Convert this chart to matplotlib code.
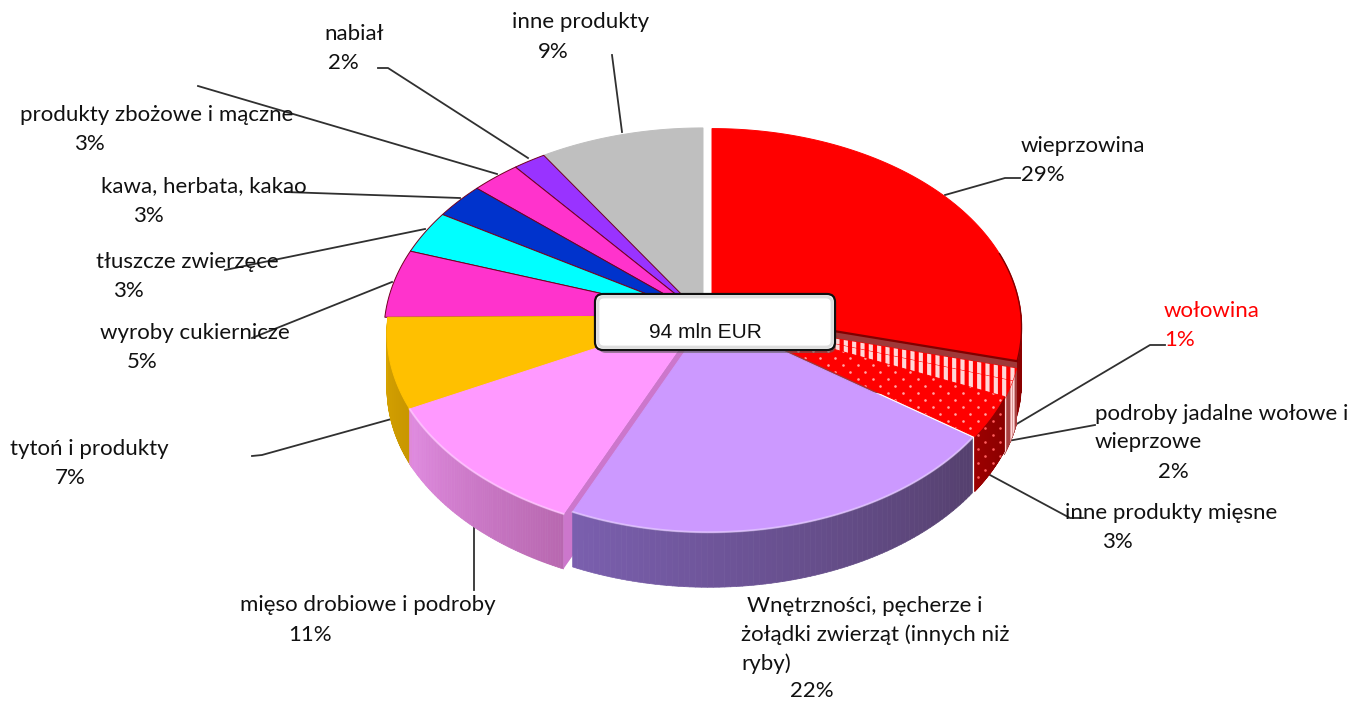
'''
-------------------
3D pie chart, 94 mln EUR
-------------------
'''
# import packages
import numpy as np
import matplotlib
matplotlib.use('Agg')
import matplotlib.pyplot as plt
from matplotlib.patches import Polygon, FancyBboxPatch
from matplotlib.collections import PolyCollection
from matplotlib.colors import to_rgb

# data
names = ['wieprzowina', 'wołowina', 'podroby jadalne wołowe i wieprzowe',
         'inne produkty mięsne', 'Wnętrzności, pęcherze i żołądki zwierząt',
         'mięso drobiowe i podroby', 'tytoń i produkty', 'wyroby cukiernicze',
         'tłuszcze zwierzęce', 'kawa, herbata, kakao',
         'produkty zbożowe i mączne', 'nabiał', 'inne produkty']
values = [29, 1, 1.5, 3.4, 21.8, 10.8, 7.4, 5.4, 3.4, 2.8, 2.7, 1.8, 9.0]
colors = ['#ff0000', '#ff0000', '#ff0000', '#ff0000', '#cc99ff', '#ff99ff',
          '#ffc000', '#ff33cc', '#00ffff', '#0033cc', '#ff33cc', '#9933ff',
          '#bfbfbf']
wall_left = ['#8b0000', '#a84040', '#a84040', '#9c0000', '#7a5fae', '#e08ae0',
             '#d8a400', '#c02090', '#00bbbb', '#002299', '#c02090', '#7020c0',
             '#909090']
wall_right = ['#8b0000', '#a84040', '#a84040', '#8a0000', '#55406e', '#b868b0',
              '#c89600', '#c02090', '#00bbbb', '#002299', '#c02090', '#7020c0',
              '#909090']
# slice shift in pixels and radius factor
shift_x = [9, 7, 7, 7, 6, 1, 3, 0, 0, 0, 0, 0, 0]
shift_y = [-5, 2, 2, -1, 1, -3, 0, 0, 0, 0, 0, 0, 0]
radius = [0.97, 0.975, 0.975, 0.975, 0.97, 1, 1, 1, 1, 1, 1, 1, 1]
# patterns of the meat slices
stripes = [1, 2]
dots = [3]
draw_order = [12, 11, 10, 9, 8, 7, 6, 0, 1, 2, 3, 5, 4]

# label lines: text, x, y
label_txt = ['inne produkty', '9%', 'nabiał', '2%', 'produkty zbożowe i mączne',
             '3%', 'kawa, herbata, kakao', '3%', 'tłuszcze zwierzęce', '3%',
             'wyroby cukiernicze', '5%', 'tytoń i produkty', '7%',
             'mięso drobiowe i podroby', '11%', 'Wnętrzności, pęcherze i',
             'żołądki zwierząt (innych niż', 'ryby)', '22%',
             'inne produkty mięsne', '3%', 'podroby jadalne wołowe i',
             'wieprzowe', '2%', 'wieprzowina', '29%']
label_x = [512, 538, 324, 328, 20, 74, 101, 133, 96, 113, 100, 127, 10, 55,
           240, 288, 747, 741, 741, 790, 1065, 1102, 1095, 1095, 1158, 1021, 1021]
label_y = [22, 52, 34, 63, 115, 144, 186, 216, 262, 291, 333, 362, 449, 478,
           605, 635, 606, 635, 664, 691, 513, 542, 414, 442, 472, 146, 175]
red_txt = ['wołowina', '1%']
red_x = [1164, 1164]
red_y = [311, 340]

# leader lines
leaders = [[(612, 55), (622, 132)],
           [(378, 68), (388, 68), (528, 158)],
           [(198, 86), (497, 174)],
           [(285, 192), (460, 198)],
           [(225, 270), (425, 229)],
           [(252, 338), (392, 282)],
           [(252, 456), (262, 455), (395, 418)],
           [(474, 590), (474, 522)],
           [(1083, 518), (1070, 518), (990, 475)],
           [(1095, 425), (1008, 441)],
           [(1165, 345), (1150, 345), (1015, 425)],
           [(1020, 178), (1005, 178), (945, 195)]]

# pie geometry in pixels
cx, cy = 703, 316
R = 318
K = 203.6
p = 0.0826
depth = 55


def project(ang, dx, dy, r=1.0):
    u = np.sin(ang)
    v = -np.cos(ang)
    s = 1/(1 - p*v)
    return cx + dx + r*R*u*s, cy + dy + r*K*v*s


def add_dots(poly, col, zo):
    # small staggered dots clipped to a face
    xs = np.arange(760, 1040, 15.0)
    ys = np.arange(330, 520, 7.0)
    gx, gy = np.meshgrid(xs, ys)
    gx[1::2] += 7.5
    sc = ax.scatter(gx.ravel(), gy.ravel(), s=3.5, color=col, linewidths=0, zorder=zo)
    sc.set_clip_path(poly)


plt.rcParams['hatch.linewidth'] = 3.0
fig = plt.figure(figsize=(13.5, 7.01), dpi=100)
ax = fig.add_axes([0, 0, 1, 1])
ax.set_xlim(0, 1350)
ax.set_ylim(701, 0)
ax.axis('off')

# cumulative angles
cum = np.cumsum([0] + values)/sum(values)*2*np.pi

# leaders go under the pie
for pts in leaders:
    xs, ys = zip(*pts)
    ax.plot(xs, ys, color='#303030', lw=1.3, zorder=1)

z = 2
for i in draw_order:
    a0, a1 = cum[i], cum[i+1]
    dx, dy = shift_x[i], shift_y[i]
    angs = np.linspace(a0, a1, 80)
    x, y = project(angs, dx, dy, radius[i])
    ox = cx + dx
    oy = cy + dy

    # outer wall, only where it faces the viewer
    front = (angs > np.pi/2 - 0.05) & (angs < 1.5*np.pi + 0.02)
    if front.sum() > 1 and i < 7:
        fx, fy = x[front], y[front]
        quads = []
        cols = []
        n = len(fx) - 1
        for k in range(n):
            quads.append([(fx[k], fy[k]), (fx[k+1], fy[k+1]),
                          (fx[k+1], fy[k+1] + depth), (fx[k], fy[k] + depth)])
            t = k/max(n - 1, 1)
            cols.append(np.array(to_rgb(wall_right[i]))*(1 - t)
                        + np.array(to_rgb(wall_left[i]))*t)
        ax.add_collection(PolyCollection(quads, facecolors=cols, edgecolors=cols,
                                         linewidths=0.5, zorder=z))
        z += 1
        outline = list(zip(fx, fy)) + list(zip(fx[::-1], fy[::-1] + depth))
        if i in stripes:
            ax.add_patch(Polygon(outline, closed=True, facecolor='none',
                                 edgecolor='#ffd8d8', hatch='||',
                                 linewidth=0, zorder=z))
            z += 1
        if i in dots:
            wall_poly = Polygon(outline, closed=True, facecolor='none',
                                edgecolor='none', zorder=z)
            ax.add_patch(wall_poly)
            add_dots(wall_poly, '#ff6060', z)
            z += 1

    # radial walls of the shifted slices
    if i in (0, 5):
        if i == 5:
            ex, ey = x[0], y[0]
        else:
            ex, ey = x[-1], y[-1]
        wall = [(ox, oy), (ex, ey), (ex, ey + depth), (ox, oy + depth)]
        ax.add_patch(Polygon(wall, closed=True,
                             facecolor='#cc77cc' if i == 5 else '#a03838',
                             edgecolor='none', zorder=z))
        z += 1

    # top face
    edge = '#700020' if i in (7, 8, 9, 10, 11) else colors[i]
    verts = [(ox, oy)] + list(zip(x, y))
    top = Polygon(verts, closed=True, facecolor=colors[i], edgecolor=edge,
                  linewidth=0.7, zorder=z)
    ax.add_patch(top)
    z += 1
    if i in stripes:
        ax.add_patch(Polygon(verts, closed=True, facecolor='none',
                             edgecolor='#ffd8d8', hatch='||',
                             linewidth=0, zorder=z))
        z += 1
    if i in dots:
        add_dots(top, '#ffa8a8', z)
        z += 1
    # dark line under the pork slice
    if i == 0:
        ax.plot([ox, x[-1]], [oy, y[-1]], color='#800000', lw=1.6, zorder=z)
        ax.plot(x[-25:], y[-25:], color='#800000', lw=1.0, zorder=z)
        z += 1
    # light rim on the front slices
    if i in (4, 5):
        ax.plot(x, y, color='white', alpha=0.35, lw=1.5, zorder=z)
        z += 1

# centre box
ax.add_patch(FancyBboxPatch((598, 299), 238, 54, boxstyle='round,pad=0,rounding_size=8',
                            facecolor='#606060', edgecolor='none', alpha=0.6, zorder=z))
ax.add_patch(FancyBboxPatch((595, 294), 240, 56, boxstyle='round,pad=0,rounding_size=8',
                            facecolor='white', edgecolor='#101010', linewidth=1.6,
                            zorder=z + 1))
ax.add_patch(FancyBboxPatch((598, 297), 234, 50, boxstyle='round,pad=0,rounding_size=6',
                            facecolor='none', edgecolor='#dedede', linewidth=2,
                            zorder=z + 1))
ax.text(705, 333, '94 mln EUR', ha='center', va='center', fontsize=15,
        family='Liberation Sans', color='#111111', zorder=z + 2)

# labels
for t, lx, ly in zip(label_txt, label_x, label_y):
    ax.text(lx, ly, t, ha='left', va='center', fontsize=16, family='Lato',
            color='#111111', zorder=z + 3)
for t, lx, ly in zip(red_txt, red_x, red_y):
    ax.text(lx, ly, t, ha='left', va='center', fontsize=16,
            family='Lato', color='#ff0000', zorder=z + 3)

fig.savefig('out.png', dpi=100)
plt.close()
